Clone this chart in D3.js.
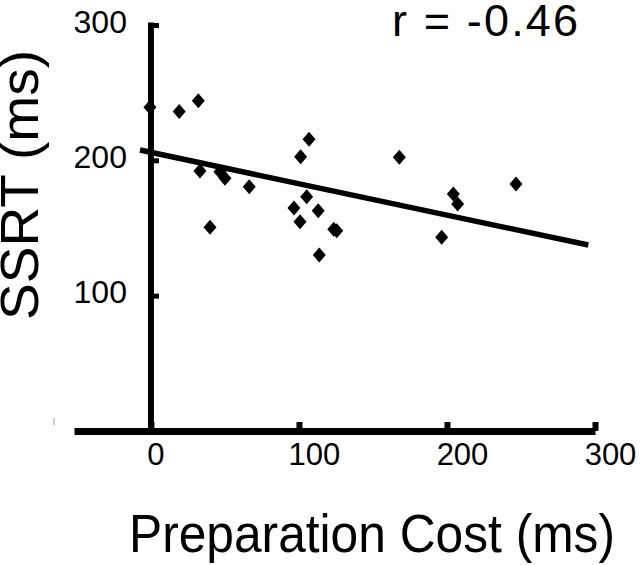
<!DOCTYPE html>
<html>
<head>
<meta charset="utf-8">
<script src="https://cdn.jsdelivr.net/npm/d3@7"></script>
<style>
  html, body { margin: 0; padding: 0; background: #fff; }
  svg { display: block; }
  text { font-family: "Liberation Sans", Arial, Helvetica, sans-serif; fill: #000; }
</style>
</head>
<body>
<svg id="chart" width="640" height="565"></svg>
<script>
// Data
const prepCost = [-0.7, 19.1, 32.0, 33.1, 46.6, 50.0, 39.9, 66.4, 106.8, 101.1, 105.2, 96.6, 100.7, 113.0, 123.5, 125.5, 113.7, 167.8, 204.3, 207.2, 196.4, 246.6];
const ssrt     = [239.2, 236.0, 244.1, 192.1, 191.6, 186.7, 150.5, 180.5, 215.5, 202.7, 173.1, 164.8, 154.7, 162.8, 149.0, 148.0, 130.0, 202.2, 175.1, 167.7, 143.1, 182.5];
const fitX = [-7.4, 295.5];
const fitY = [207.6, 137.4];
const xTicks = [0, 100, 200, 300];
const yTicks = [100, 200, 300];
const rLabel = "r = -0.46";
const xTitle = "Preparation Cost (ms)";
const yTitle = "SSRT (ms)";

const svg = d3.select("#chart");
const x = d3.scaleLinear().domain([-52, 300]).range([74, 595]);
const y = d3.scaleLinear().domain([0, 300]).range([431, 25]);

// stray mark at left
svg.append("line").attr("x1", 54).attr("x2", 54).attr("y1", 418).attr("y2", 425)
  .attr("stroke", "#999").attr("stroke-width", 1);

// X axis
const gx = svg.append("g").attr("transform", `translate(0,${y(0)})`)
  .call(d3.axisBottom(x).tickValues(xTicks).tickSizeInner(-9).tickSizeOuter(0).tickFormat(d3.format("d")));
gx.select(".domain").attr("stroke", "#000").attr("stroke-width", 7);
gx.selectAll(".tick line").attr("stroke", "#000").attr("stroke-width", 6);
gx.selectAll(".tick text").attr("y", 34).attr("dy", 0)
  .attr("dx", d => d === 0 ? 4.5 : 15)
  .style("font-size", "31px");

// Y axis
const gy = svg.append("g").attr("transform", `translate(${x(0)},0)`)
  .call(d3.axisLeft(y).tickValues(yTicks).tickSizeInner(-8).tickSizeOuter(0).tickPadding(24).tickFormat(d3.format("d")));
gy.select(".domain").attr("stroke", "#000").attr("stroke-width", 6)
  .attr("d", `M0,${y(0)}V${y(300) - 2.5}`);
gy.selectAll(".tick line").attr("stroke", "#000").attr("stroke-width", 5);
gy.selectAll(".tick text").attr("dy", "0.22em").style("font-size", "32px");
svg.selectAll(".tick text").attr("fill", "#000");
svg.selectAll("g").attr("font-family", null).attr("font-size", null);

// regression line
svg.append("line")
  .attr("x1", x(fitX[0])).attr("y1", y(fitY[0]))
  .attr("x2", x(fitX[1])).attr("y2", y(fitY[1]))
  .attr("stroke", "#000").attr("stroke-width", 5.5);

// diamonds
const pts = prepCost.map((v, i) => [v, ssrt[i]]);
const hw = 6.5, hh = 7.5;
svg.append("g").selectAll("path").data(pts).join("path")
  .attr("d", d => {
    const cx = x(d[0]), cy = y(d[1]);
    return `M${cx},${cy - hh}L${cx + hw},${cy}L${cx},${cy + hh}L${cx - hw},${cy}Z`;
  })
  .attr("fill", "#000");

// r label
svg.append("text").attr("x", 392).attr("y", 36)
  .attr("textLength", 186).attr("lengthAdjust", "spacing")
  .style("font-size", "45px").text(rLabel);

// axis titles
svg.append("text").attr("x", 129).attr("y", 552)
  .attr("textLength", 486).attr("lengthAdjust", "spacingAndGlyphs")
  .style("font-size", "53px").text(xTitle);

svg.append("text").attr("transform", "translate(38,185) rotate(-90)")
  .attr("text-anchor", "middle")
  .attr("textLength", 270).attr("lengthAdjust", "spacingAndGlyphs")
  .style("font-size", "53px").text(yTitle);
</script>
</body>
</html>
